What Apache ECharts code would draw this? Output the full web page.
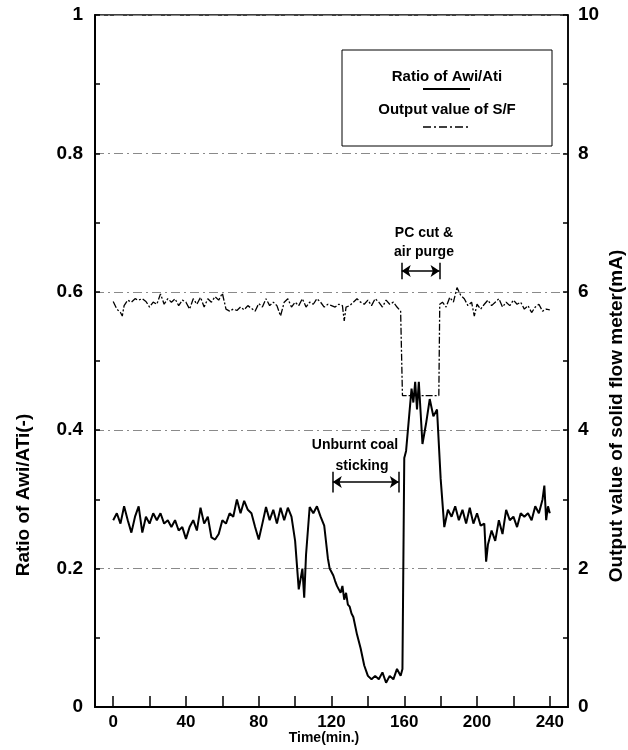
<!DOCTYPE html>
<html>
<head>
<meta charset="utf-8">
<script src="https://cdn.jsdelivr.net/npm/echarts@6/dist/echarts.min.js"></script>
<style>
  html, body { margin: 0; padding: 0; background: #fff; }
  #main { width: 628px; height: 750px; }
</style>
</head>
<body>
<div id="main"></div>
<script>
// time (min.) and ratio Awi/Ati
const ratioTime = [0, 2, 4, 6, 8, 10, 12, 14, 16, 18, 20, 22, 24, 26, 28, 30, 32, 34, 36, 38,
  40, 42, 44, 46, 48, 50, 52, 54, 56, 58, 60, 62, 64, 66, 68, 70, 72, 74, 76, 78,
  80, 82, 84, 86, 88, 90, 92, 94, 96, 98, 100, 102, 104, 105, 106, 108, 110, 112, 114, 116,
  118, 119, 120, 121, 122, 123, 124, 125, 126, 127, 128, 129, 130, 131, 132, 134, 136, 138, 140, 142,
  144, 146, 148, 150, 152, 154, 156, 158, 159, 160, 161, 162, 164, 165, 166, 167, 168, 170, 172, 174,
  176, 178, 180, 182, 184, 186, 188, 190, 192, 194, 196, 198, 200, 202, 204, 205, 206, 208, 210, 212,
  214, 216, 218, 220, 222, 224, 226, 228, 230, 232, 234, 236, 237, 238, 239, 240];
const ratioValue = [0.27, 0.28, 0.265, 0.29, 0.27, 0.252, 0.275, 0.29, 0.252, 0.275, 0.265, 0.28, 0.27, 0.28, 0.265, 0.27, 0.26, 0.27, 0.255, 0.26,
  0.243, 0.26, 0.27, 0.255, 0.288, 0.265, 0.275, 0.245, 0.242, 0.25, 0.27, 0.265, 0.28, 0.275, 0.3, 0.28, 0.298, 0.285, 0.28, 0.26,
  0.242, 0.265, 0.289, 0.27, 0.285, 0.265, 0.288, 0.27, 0.288, 0.275, 0.24, 0.17, 0.2, 0.158, 0.22, 0.289, 0.28, 0.29, 0.275, 0.262,
  0.215, 0.2, 0.195, 0.19, 0.182, 0.175, 0.17, 0.165, 0.175, 0.155, 0.165, 0.148, 0.145, 0.135, 0.13, 0.105, 0.085, 0.06, 0.045, 0.04,
  0.045, 0.04, 0.05, 0.035, 0.045, 0.04, 0.055, 0.045, 0.055, 0.36, 0.37, 0.4, 0.46, 0.44, 0.47, 0.43, 0.47, 0.38, 0.41, 0.445,
  0.42, 0.43, 0.33, 0.26, 0.285, 0.275, 0.29, 0.27, 0.285, 0.265, 0.288, 0.265, 0.28, 0.262, 0.265, 0.21, 0.235, 0.255, 0.24, 0.27,
  0.25, 0.285, 0.27, 0.275, 0.26, 0.28, 0.275, 0.28, 0.27, 0.29, 0.28, 0.3, 0.32, 0.27, 0.29, 0.28];

// output value of solid flow meter S/F (mA)
const sfTime = [0, 2, 4, 5, 6, 8, 10, 12, 14, 16, 18, 20, 22, 24, 26, 28, 30, 32, 34, 36,
  38, 40, 42, 44, 46, 48, 50, 52, 54, 56, 58, 60, 62, 64, 66, 68, 70, 72, 74, 76,
  78, 80, 82, 84, 86, 88, 90, 92, 94, 96, 98, 100, 102, 104, 106, 108, 110, 112, 114, 116,
  118, 120, 122, 124, 126, 127, 128, 130, 132, 134, 136, 138, 140, 142, 144, 146, 148, 150, 152, 154,
  156, 158, 159, 179, 179.5, 181, 183, 185, 187, 189, 191, 193, 195, 197, 198.5, 200, 202, 204, 206, 208,
  210, 212, 214, 216, 218, 220, 222, 224, 226, 228, 230, 232, 234, 236, 238, 240];
const sfValue = [5.86, 5.75, 5.7, 5.65, 5.8, 5.88, 5.85, 5.9, 5.88, 5.9, 5.86, 5.78, 5.85, 5.82, 5.97, 5.82, 5.9, 5.85, 5.9, 5.8,
  5.88, 5.85, 5.75, 5.9, 5.82, 5.92, 5.78, 5.9, 5.85, 5.93, 5.88, 5.98, 5.75, 5.72, 5.75, 5.73, 5.78, 5.74, 5.8, 5.76,
  5.72, 5.83, 5.78, 5.9, 5.8, 5.85, 5.8, 5.65, 5.85, 5.9, 5.78, 5.85, 5.8, 5.9, 5.78, 5.85, 5.82, 5.9, 5.85, 5.78,
  5.82, 5.8, 5.78, 5.82, 5.8, 5.58, 5.78, 5.8, 5.85, 5.9, 5.85, 5.82, 5.88, 5.8, 5.9, 5.85, 5.78, 5.88, 5.82, 5.85,
  5.78, 5.72, 4.5, 4.5, 5.82, 5.85, 5.78, 5.92, 5.85, 6.06, 5.95, 5.9, 5.8, 5.85, 5.65, 5.82, 5.75, 5.82, 5.88, 5.8,
  5.85, 5.9, 5.78, 5.85, 5.8, 5.88, 5.82, 5.85, 5.75, 5.8, 5.7, 5.78, 5.82, 5.72, 5.75, 5.74];

const xTicks = [0, 20, 40, 60, 80, 100, 120, 140, 160, 180, 200, 220, 240];
const xLabels = [0, 40, 80, 120, 160, 200, 240];

// annotation spans (min.) on the ratio axis
const pcCutSpan = [158.6, 179.4];
const unburntSpan = [120.7, 157];

const FONT = 'Liberation Sans, Arial, sans-serif';

const chart = echarts.init(document.getElementById('main'), null, {renderer: 'canvas'});

function spanArrow(span, y, h) {
  return [
    [{coord: [span[0], y], symbol: 'arrow'}, {coord: [span[1], y], symbol: 'arrow'}],
    [{coord: [span[0], y + h], symbol: 'none'}, {coord: [span[0], y - h], symbol: 'none'}],
    [{coord: [span[1], y + h], symbol: 'none'}, {coord: [span[1], y - h], symbol: 'none'}]
  ];
}

const option = {
  animation: false,
  backgroundColor: '#fff',
  grid: {
    left: 95, right: 60, top: 15, bottom: 43,
    show: true, borderColor: '#000', borderWidth: 1.5
  },
  xAxis: {
    type: 'value', min: -10, max: 250,
    axisLine: {onZero: false, lineStyle: {color: '#000', width: 2}},
    axisTick: {inside: true, length: 11, customValues: xTicks, lineStyle: {color: '#000', width: 1.5}},
    axisLabel: {customValues: xLabels, color: '#000', fontWeight: 'bold', fontSize: 17, fontFamily: FONT, margin: 7},
    splitLine: {show: false}
  },
  yAxis: [
    {
      type: 'value', min: 0, max: 1, interval: 0.1,
      axisLine: {show: true, onZero: false, lineStyle: {color: '#000', width: 2}},
      axisTick: {inside: true, length: 5, lineStyle: {color: '#000', width: 1.5}},
      axisLabel: {
        color: '#000', fontWeight: 'bold', fontSize: 19, fontFamily: FONT, margin: 12,
        formatter: v => (Math.round(v * 10) % 2 === 0 ? String(Math.round(v * 10) / 10) : '')
      },
      splitLine: {show: false}
    },
    {
      type: 'value', min: 0, max: 10, interval: 1, position: 'right',
      axisLine: {show: true, onZero: false, lineStyle: {color: '#000', width: 1.5}},
      axisTick: {inside: true, length: 5, lineStyle: {color: '#000', width: 1.5}},
      axisLabel: {
        color: '#000', fontWeight: 'bold', fontSize: 19, fontFamily: FONT, margin: 10,
        formatter: v => (v % 2 === 0 ? String(v) : '')
      },
      splitLine: {show: false}
    },
    {
      // only for the dash-dot grid lines
      type: 'value', min: 0, max: 1, interval: 0.2, show: true,
      axisLine: {show: false, onZero: false}, axisTick: {show: false}, axisLabel: {show: false},
      splitLine: {show: true, lineStyle: {color: '#8a8a8a', width: 1, type: [9, 4, 2, 4]}}
    }
  ],
  series: [
    {
      name: 'Output value of S/F',
      type: 'line',
      yAxisIndex: 1,
      symbol: 'none',
      data: sfTime.map((t, i) => [t, sfValue[i]]),
      lineStyle: {color: '#000', width: 1.3, type: [7, 2, 2, 2]},
      z: 3
    },
    {
      name: 'Ratio of Awi/Ati',
      type: 'line',
      yAxisIndex: 0,
      symbol: 'none',
      data: ratioTime.map((t, i) => [t, ratioValue[i]]),
      lineStyle: {color: '#000', width: 2},
      z: 4,
      markLine: {
        silent: true,
        symbol: ['none', 'none'],
        symbolSize: [9, 9],
        label: {show: false},
        lineStyle: {color: '#000', width: 1.5, type: 'solid'},
        data: spanArrow(pcCutSpan, 0.63, 0.012).concat(spanArrow(unburntSpan, 0.325, 0.015))
      }
    }
  ],
  graphic: [
    // legend box
    {type: 'rect', shape: {x: 342, y: 50, width: 210, height: 96},
      style: {fill: '#fff', stroke: '#000', lineWidth: 1}, z: 10},
    {type: 'text', x: 447, y: 77, style: {text: 'Ratio of Awi/Ati', font: 'bold 15px ' + FONT,
      fill: '#000', textAlign: 'center', textVerticalAlign: 'middle'}, z: 11},
    {type: 'line', shape: {x1: 423, y1: 89, x2: 470, y2: 89}, style: {stroke: '#000', lineWidth: 2}, z: 11},
    {type: 'text', x: 447, y: 110, style: {text: 'Output value of S/F', font: 'bold 15px ' + FONT,
      fill: '#000', textAlign: 'center', textVerticalAlign: 'middle'}, z: 11},
    {type: 'line', shape: {x1: 423, y1: 127, x2: 470, y2: 127},
      style: {stroke: '#000', lineWidth: 1.5, lineDash: [8, 3, 2, 3]}, z: 11},
    // annotations
    {type: 'text', x: 424, y: 233, style: {text: 'PC cut &', font: 'bold 14px ' + FONT,
      fill: '#000', textAlign: 'center', textVerticalAlign: 'middle'}},
    {type: 'text', x: 424, y: 252, style: {text: 'air purge', font: 'bold 14px ' + FONT,
      fill: '#000', textAlign: 'center', textVerticalAlign: 'middle'}},
    {type: 'text', x: 355, y: 445, style: {text: 'Unburnt coal', font: 'bold 14px ' + FONT,
      fill: '#000', textAlign: 'center', textVerticalAlign: 'middle'}},
    {type: 'text', x: 362, y: 466, style: {text: 'sticking', font: 'bold 14px ' + FONT,
      fill: '#000', textAlign: 'center', textVerticalAlign: 'middle'}},
    // axis titles
    {type: 'text', x: 324, y: 738, style: {text: 'Time(min.)', font: 'bold 14px ' + FONT,
      fill: '#000', textAlign: 'center', textVerticalAlign: 'middle'}},
    {type: 'text', x: 24, y: 495, rotation: Math.PI / 2, style: {text: 'Ratio of Awi/ATi(-)', font: 'bold 19px ' + FONT,
      fill: '#000', textAlign: 'center', textVerticalAlign: 'middle'}},
    {type: 'text', x: 617, y: 416, rotation: Math.PI / 2, style: {text: 'Output value of solid flow meter(mA)', font: 'bold 19px ' + FONT,
      fill: '#000', textAlign: 'center', textVerticalAlign: 'middle'}}
  ]
};

chart.setOption(option);
</script>
</body>
</html>
